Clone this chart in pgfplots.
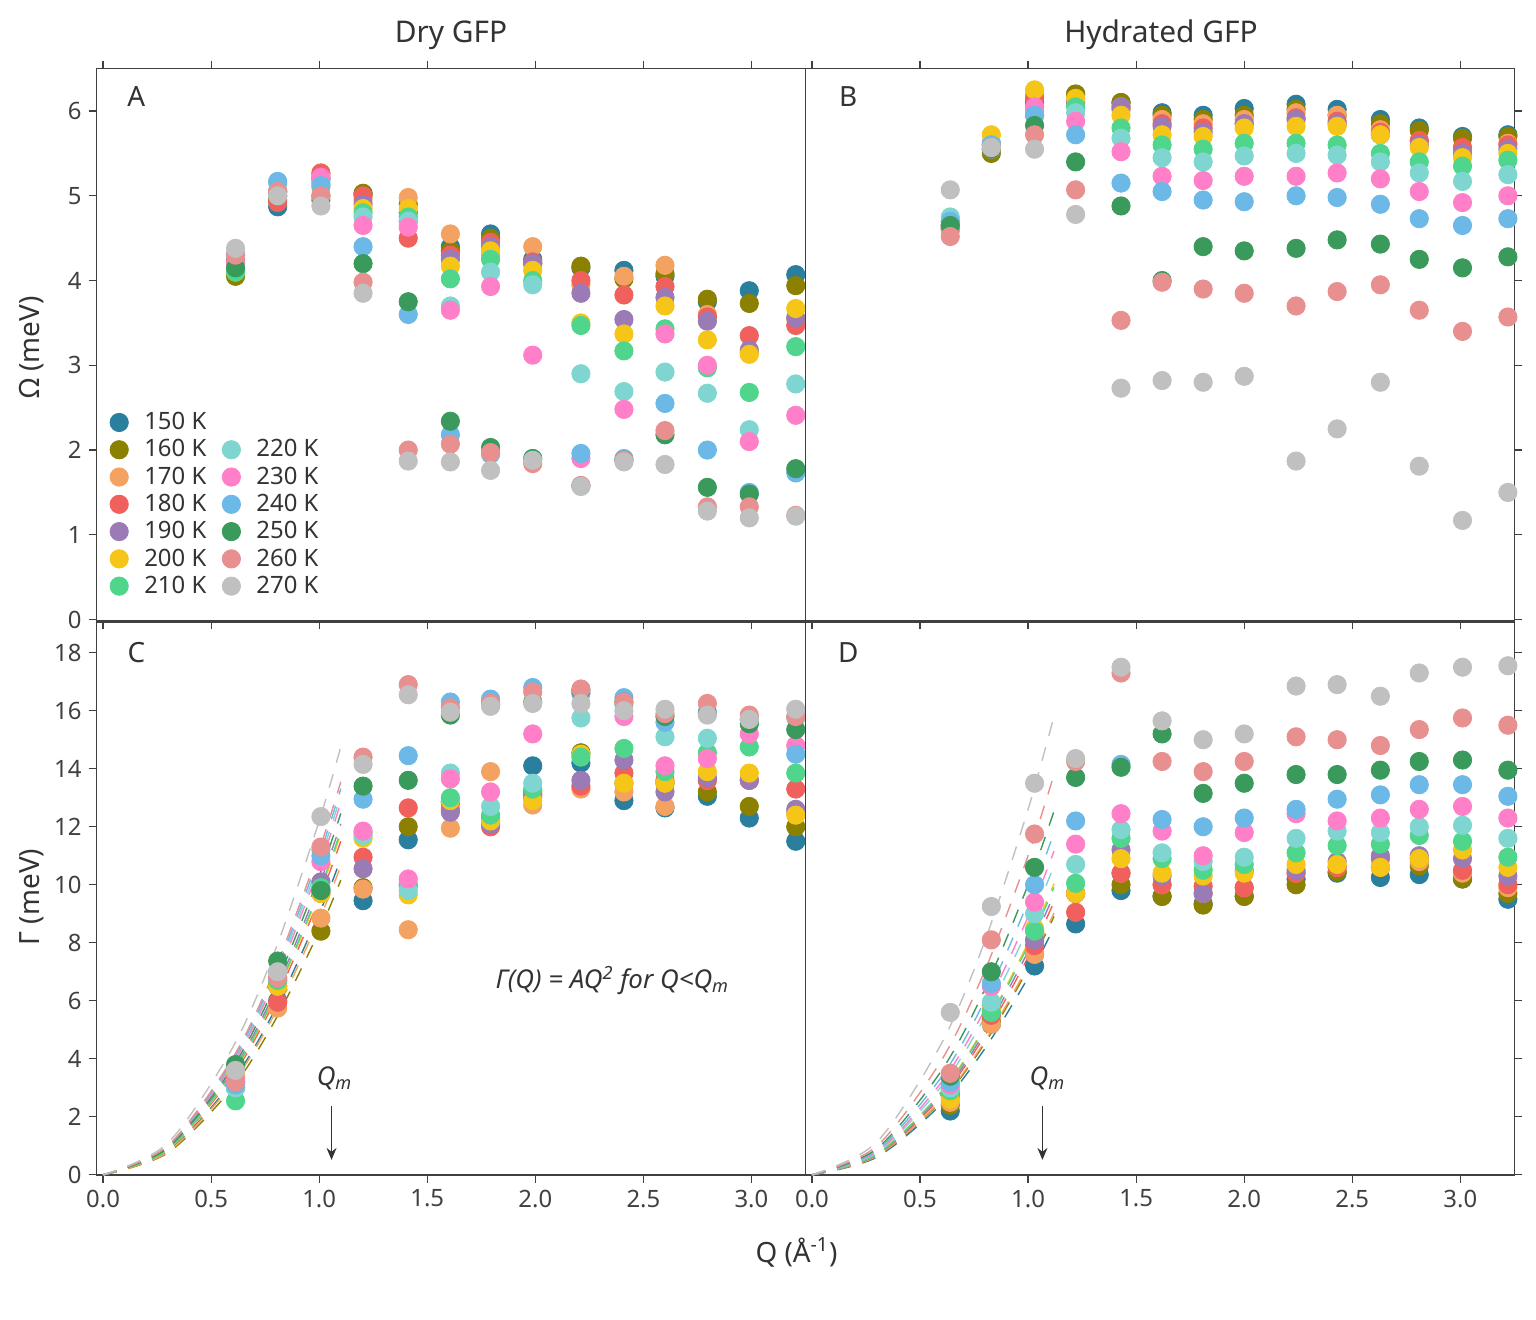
\documentclass[border=0pt]{standalone}
\usepackage{fontspec}
\setmainfont{Noto Sans}
\usepackage{pgfplots}
\usepackage{pgfplotstable}
\usetikzlibrary{arrows.meta}
\pgfplotsset{compat=1.18}
\definecolor{c150}{HTML}{2A7F9E}
\definecolor{c160}{HTML}{8B8000}
\definecolor{c170}{HTML}{F4A261}
\definecolor{c180}{HTML}{F0605D}
\definecolor{c190}{HTML}{9B7BB5}
\definecolor{c200}{HTML}{F5C518}
\definecolor{c210}{HTML}{4FD68C}
\definecolor{c220}{HTML}{7FD6D0}
\definecolor{c230}{HTML}{FF7FC8}
\definecolor{c240}{HTML}{6CB8E6}
\definecolor{c250}{HTML}{3A9A5B}
\definecolor{c260}{HTML}{E8908F}
\definecolor{c270}{HTML}{C0C0C0}
\pgfplotstableread{
Q T150 T160 T170 T180 T190 T200 T210 T220 T230 T240 T250 T260 T270
0.613 4.1 4.05 4.2 4.25 4.3 4.1 4.1 4.3 4.2 4.3 4.15 4.3 4.38
0.808 4.87 4.95 5.0 4.92 5.05 5.0 5.05 5.15 5.05 5.17 5.0 5.05 5.0
1.008 5.2 5.0 5.25 5.27 5.2 5.1 5.15 5.2 5.22 5.12 4.95 5.0 4.88
1.203 5.02 5.03 4.95 5.0 4.9 4.85 4.8 4.75 4.65 4.4 4.2 3.98 3.85
1.412 4.8 4.9 4.98 4.5 4.7 4.85 4.75 4.7 4.63 3.6 3.75 2.0 1.87
1.607 4.4 4.35 4.55 4.3 4.25 4.17 4.02 3.7 3.65 2.18 2.34 2.07 1.86
1.793 4.55 4.5 4.3 4.45 4.4 4.35 4.25 4.1 3.93 1.95 2.03 1.97 1.76
1.988 4.25 4.2 4.4 4.22 4.2 4.12 4.0 3.95 3.12 1.9 1.9 1.84 1.88
2.211 4.15 4.17 3.95 4.0 3.85 3.5 3.47 2.9 1.9 1.96 1.58 1.58 1.57
2.41 4.12 4.02 4.05 3.83 3.54 3.37 3.17 2.69 2.48 1.9 1.88 1.88 1.86
2.60 4.05 4.08 4.18 3.93 3.8 3.7 3.43 2.92 3.37 2.55 2.18 2.23 1.83
2.796 3.75 3.78 3.6 3.57 3.52 3.3 2.97 2.67 3.0 2.0 1.56 1.33 1.28
2.99 3.88 3.73 3.15 3.35 3.18 3.13 2.68 2.24 2.1 1.5 1.48 1.33 1.2
3.205 4.07 3.94 3.55 3.47 3.56 3.67 3.22 2.78 2.41 1.73 1.78 1.23 1.22
}\tabA
\pgfplotstableread{
Q T150 T160 T170 T180 T190 T200 T210 T220 T230 T240 T250 T260 T270
0.64 4.65 4.62 4.65 4.6 4.62 4.65 4.7 4.75 4.6 4.7 4.65 4.52 5.07
0.83 5.55 5.5 5.55 5.6 5.62 5.72 5.6 5.6 5.55 5.6 5.55 5.57 5.57
1.03 6.1 6.05 6.2 6.15 6.0 6.25 5.95 6.0 6.05 5.95 5.83 5.72 5.55
1.22 6.2 6.2 6.1 6.12 6.1 6.15 6.05 5.98 5.88 5.72 5.4 5.07 4.78
1.43 6.1 6.1 6.05 6.02 6.05 5.95 5.8 5.68 5.52 5.15 4.88 3.53 2.73
1.62 5.98 5.95 5.9 5.85 5.82 5.72 5.6 5.45 5.23 5.05 4.0 3.98 2.82
1.81 5.95 5.9 5.85 5.8 5.75 5.7 5.55 5.4 5.18 4.95 4.4 3.9 2.8
2.0 6.03 5.95 5.9 5.85 5.85 5.8 5.62 5.47 5.23 4.93 4.35 3.85 2.87
2.24 6.08 6.02 5.98 5.92 5.9 5.82 5.62 5.5 5.23 5.0 4.38 3.7 1.87
2.43 6.02 5.95 5.95 5.88 5.85 5.82 5.6 5.48 5.27 4.98 4.48 3.87 2.25
2.63 5.9 5.85 5.78 5.75 5.72 5.72 5.5 5.4 5.2 4.9 4.43 3.95 2.8
2.81 5.8 5.77 5.65 5.65 5.6 5.57 5.4 5.27 5.05 4.73 4.25 3.65 1.81
3.01 5.7 5.68 5.55 5.57 5.5 5.45 5.35 5.17 4.92 4.65 4.15 3.4 1.17
3.22 5.72 5.7 5.62 5.6 5.55 5.5 5.42 5.25 5.0 4.73 4.28 3.57 1.5
}\tabB
\pgfplotstableread{
Q T150 T160 T170 T180 T190 T200 T210 T220 T230 T240 T250 T260 T270
0.613 3.0 3.2 3.3 3.2 3.4 3.5 2.55 3.0 3.3 3.1 3.8 3.2 3.6
0.808 6.0 6.5 5.75 5.95 6.7 6.5 6.7 7.0 6.8 7.0 7.37 6.8 7.0
1.008 9.8 8.4 8.85 9.7 10.1 9.7 9.9 11.2 10.8 11.0 9.8 11.3 12.35
1.203 9.45 9.9 9.85 10.95 10.55 11.6 11.8 11.7 11.85 12.95 13.4 14.4 14.15
1.412 11.55 12.0 8.45 12.65 10.0 9.65 9.95 9.8 10.2 14.45 13.6 16.9 16.55
1.607 12.85 12.85 11.95 12.6 12.5 12.9 13.0 13.85 13.65 16.3 15.85 16.1 15.95
1.793 12.2 12.3 13.9 12.0 12.1 12.2 12.4 12.7 13.2 16.4 16.2 16.25 16.15
1.988 14.1 13.2 12.75 13.1 13.0 12.9 13.3 13.5 15.2 16.8 16.3 16.65 16.25
2.211 14.2 14.55 13.3 13.4 13.6 14.5 14.4 15.75 16.6 16.6 16.7 16.75 16.25
2.41 12.9 13.5 13.2 13.85 14.3 13.5 14.7 16.2 15.8 16.45 16.3 16.3 16.0
2.60 12.65 13.5 12.7 13.6 13.2 13.5 13.9 15.1 14.1 15.6 15.8 15.9 16.05
2.796 13.05 13.2 13.6 13.6 13.7 13.9 14.55 15.05 14.35 15.95 15.9 16.25 15.85
2.99 12.3 12.7 13.6 13.6 13.6 13.85 14.75 15.7 15.2 15.7 15.55 15.85 15.7
3.205 11.5 12.0 12.5 13.3 12.6 12.4 13.85 15.75 14.8 14.5 15.35 15.8 16.05
}\tabC
\pgfplotstableread{
Q T150 T160 T170 T180 T190 T200 T210 T220 T230 T240 T250 T260 T270
0.64 2.2 2.4 2.5 2.7 2.8 2.6 2.9 3.0 3.1 3.2 3.4 3.5 5.6
0.83 5.2 5.3 5.2 5.5 5.8 5.7 5.6 5.95 6.5 6.6 7.0 8.1 9.25
1.03 7.2 7.6 7.6 7.9 8.1 8.5 8.4 9.0 9.4 10.0 10.6 11.75 13.5
1.22 8.65 9.7 9.7 9.05 9.7 9.7 10.05 10.7 11.4 12.2 13.7 14.25 14.35
1.43 9.8 10.0 10.4 10.4 11.2 10.9 11.6 11.9 12.45 14.15 14.05 17.3 17.5
1.62 9.6 9.6 10.0 10.0 10.3 10.4 10.9 11.1 11.85 12.25 15.2 14.25 15.65
1.81 9.35 9.3 9.7 9.95 9.7 10.3 10.5 10.8 11.0 12.0 13.15 13.9 15.0
2.0 9.6 9.6 9.9 9.9 10.5 10.4 10.7 10.95 11.8 12.3 13.5 14.25 15.2
2.24 10.2 10.0 10.4 10.4 10.5 10.7 11.1 11.6 12.45 12.6 13.8 15.1 16.85
2.43 10.4 10.45 10.6 10.6 10.8 10.7 11.35 11.85 12.2 12.95 13.8 15.0 16.9
2.63 10.25 10.6 10.6 10.9 11.0 10.6 11.4 11.8 12.3 13.1 13.95 14.8 16.5
2.81 10.35 10.65 10.8 10.9 11.0 10.9 11.7 12.0 12.6 13.45 14.25 15.35 17.3
3.01 10.2 10.2 10.4 10.5 10.9 11.2 11.5 12.05 12.7 13.45 14.3 15.75 17.5
3.22 9.5 9.7 9.9 10.0 10.3 10.6 10.95 11.6 12.3 13.05 13.95 15.5 17.55
}\tabD
\pgfplotsset{
  panel/.style={scale only axis, width=356pt, height=277.5pt,
    axis line style={black!75, line width=0.8pt}, tick style={black!75, line width=0.6pt},
    tick align=outside, major tick length=4pt,
    xmin=-0.03, xmax=3.25, xtick={0,0.5,...,3.0},
    ticklabel style={font=\fontsize{12}{14}\selectfont, text=black!75},
    /pgf/number format/assume math mode=true,
    x tick label style={/pgf/number format/.cd, fixed, fixed zerofill, precision=1},
    clip=false},
  pts/.style={only marks, mark=*, mark size=4.6pt, color=#1, mark options={draw=#1, fill=#1}},
  fitl/.style={#1, smooth, line width=0.7pt, dash pattern=on 7pt off 6pt, forget plot}
}
\begin{document}
\begin{tikzpicture}
\path (0,0) rectangle (768pt,662.5pt);
% A
\begin{axis}[panel, at={(48.5pt,350.5pt)}, anchor=south west,
  ymin=-0.02, ymax=6.5, ytick={0,1,...,6}, xticklabels={},
  xtick pos=both, ytick pos=left,
  legend columns=7, transpose legend,
  legend image code/.code={\draw plot coordinates {(0.1cm,0cm)};},
  legend style={draw=none, fill=none, at={(0.01,0.03)}, anchor=south west,
    font=\fontsize{12}{14}\selectfont, row sep=-0.5pt, column sep=6pt, text=black!80},
  legend cell align=left]
\pgfplotsinvokeforeach{150,160,170,180,190,200,210}{
  \addplot[pts=c#1] table[x=Q,y=T#1]{\tabA}; \addlegendentry{#1 K}
}
\addlegendimage{empty legend}\addlegendentry{}
\pgfplotsinvokeforeach{220,230,240,250,260,270}{
  \addplot[pts=c#1] table[x=Q,y=T#1]{\tabA}; \addlegendentry{#1 K}
}
\end{axis}
% B
\begin{axis}[panel, at={(404.5pt,350.5pt)}, anchor=south west,
  ymin=-0.02, ymax=6.5, ytick={0,1,...,6}, xticklabels={}, yticklabels={},
  xtick pos=both, ytick pos=right]
\pgfplotsinvokeforeach{150,160,170,180,190,200,210,220,230,240,250,260,270}{
  \addplot[pts=c#1] table[x=Q,y=T#1]{\tabB};
}
\end{axis}
% C
\begin{axis}[panel, at={(48.5pt,72.5pt)}, anchor=south west,
  ymin=0, ymax=19.05, ytick={0,2,...,18},
  xtick pos=bottom, ytick pos=left]
\addplot[fitl=c150] coordinates {(0,0)(0.3,0.81)(0.6,3.24)(0.8,5.76)(1.0,9.0)(1.1,10.89)};
\addplot[fitl=c160] coordinates {(0,0)(0.3,0.76)(0.6,3.02)(0.8,5.38)(1.0,8.4)(1.1,10.16)};
\addplot[fitl=c170] coordinates {(0,0)(0.3,0.79)(0.6,3.17)(0.8,5.63)(1.0,8.8)(1.1,10.65)};
\addplot[fitl=c180] coordinates {(0,0)(0.3,0.86)(0.6,3.42)(0.8,6.08)(1.0,9.5)(1.1,11.5)};
\addplot[fitl=c190] coordinates {(0,0)(0.3,0.9)(0.6,3.6)(0.8,6.4)(1.0,10)(1.1,12.1)};
\addplot[fitl=c200] coordinates {(0,0)(0.3,0.87)(0.6,3.49)(0.8,6.21)(1.0,9.7)(1.1,11.74)};
\addplot[fitl=c210] coordinates {(0,0)(0.3,0.88)(0.6,3.53)(0.8,6.27)(1.0,9.8)(1.1,11.86)};
\addplot[fitl=c220] coordinates {(0,0)(0.3,0.97)(0.6,3.89)(0.8,6.91)(1.0,10.8)(1.1,13.07)};
\addplot[fitl=c230] coordinates {(0,0)(0.3,0.95)(0.6,3.82)(0.8,6.78)(1.0,10.6)(1.1,12.83)};
\addplot[fitl=c240] coordinates {(0,0)(0.3,0.99)(0.6,3.96)(0.8,7.04)(1.0,11)(1.1,13.31)};
\addplot[fitl=c250] coordinates {(0,0)(0.3,0.93)(0.6,3.71)(0.8,6.59)(1.0,10.3)(1.1,12.46)};
\addplot[fitl=c260] coordinates {(0,0)(0.3,1.01)(0.6,4.03)(0.8,7.17)(1.0,11.2)(1.1,13.55)};
\addplot[fitl=c270] coordinates {(0,0)(0.3,1.1)(0.6,4.39)(0.8,7.81)(1.0,12.2)(1.1,14.76)};
\pgfplotsinvokeforeach{150,160,170,180,190,200,210,220,230,240,250,260,270}{
  \addplot[pts=c#1] table[x=Q,y=T#1]{\tabC};
}
\end{axis}
% D
\begin{axis}[panel, at={(404.5pt,72.5pt)}, anchor=south west,
  ymin=0, ymax=19.05, ytick={0,2,...,18}, yticklabels={},
  xtick pos=bottom, ytick pos=right]
\addplot[fitl=c150] coordinates {(0,0)(0.3,0.61)(0.6,2.45)(0.8,4.35)(1.0,6.8)(1.12,8.53)};
\addplot[fitl=c160] coordinates {(0,0)(0.3,0.64)(0.6,2.56)(0.8,4.54)(1.0,7.1)(1.12,8.91)};
\addplot[fitl=c170] coordinates {(0,0)(0.3,0.65)(0.6,2.59)(0.8,4.61)(1.0,7.2)(1.12,9.03)};
\addplot[fitl=c180] coordinates {(0,0)(0.3,0.68)(0.6,2.7)(0.8,4.8)(1.0,7.5)(1.12,9.41)};
\addplot[fitl=c190] coordinates {(0,0)(0.3,0.69)(0.6,2.77)(0.8,4.93)(1.0,7.7)(1.12,9.66)};
\addplot[fitl=c200] coordinates {(0,0)(0.3,0.72)(0.6,2.88)(0.8,5.12)(1.0,8)(1.12,10.04)};
\addplot[fitl=c210] coordinates {(0,0)(0.3,0.71)(0.6,2.84)(0.8,5.06)(1.0,7.9)(1.12,9.91)};
\addplot[fitl=c220] coordinates {(0,0)(0.3,0.77)(0.6,3.06)(0.8,5.44)(1.0,8.5)(1.12,10.66)};
\addplot[fitl=c230] coordinates {(0,0)(0.3,0.8)(0.6,3.2)(0.8,5.7)(1.0,8.9)(1.12,11.16)};
\addplot[fitl=c240] coordinates {(0,0)(0.3,0.85)(0.6,3.38)(0.8,6.02)(1.0,9.4)(1.12,11.79)};
\addplot[fitl=c250] coordinates {(0,0)(0.3,0.9)(0.6,3.6)(0.8,6.4)(1.0,10)(1.12,12.54)};
\addplot[fitl=c260] coordinates {(0,0)(0.3,0.99)(0.6,3.96)(0.8,7.04)(1.0,11)(1.12,13.8)};
\addplot[fitl=c270] coordinates {(0,0)(0.3,1.13)(0.6,4.54)(0.8,8.06)(1.0,12.6)(1.12,15.81)};
\pgfplotsinvokeforeach{150,160,170,180,190,200,210,220,230,240,250,260,270}{
  \addplot[pts=c#1] table[x=Q,y=T#1]{\tabD};
}
\end{axis}
% texts
\begin{scope}[every node/.style={text=black!80}]
\node[font=\fontsize{15}{18}\selectfont] at (226.5pt,645pt) {Dry GFP};
\node[font=\fontsize{15}{18}\selectfont] at (583pt,645pt) {Hydrated GFP};
\node[font=\fontsize{14}{17}\selectfont\bfseries] at (400pt,33.5pt) {Q (Å\textsuperscript{-1})};
\node[font=\fontsize{14}{17}\selectfont\bfseries, rotate=90] at (16pt,488pt) {Ω (meV)};
\node[font=\fontsize{14}{17}\selectfont\bfseries, rotate=90] at (16pt,212pt) {Γ (meV)};
\node[font=\fontsize{14}{17}\selectfont] at (68.5pt,614pt) {A};
\node[font=\fontsize{14}{17}\selectfont] at (426pt,614pt) {B};
\node[font=\fontsize{14}{17}\selectfont] at (68.5pt,335pt) {C};
\node[font=\fontsize{14}{17}\selectfont] at (426pt,335pt) {D};
\node[font=\fontsize{13}{16}\selectfont\itshape] at (307.5pt,170pt) {Γ(Q) = AQ\textsuperscript{2} for Q<Q\textsubscript{m}};
\node[font=\fontsize{13}{16}\selectfont\itshape] at (168pt,121pt) {Q\textsubscript{m}};
\node[font=\fontsize{13}{16}\selectfont\itshape] at (526pt,121pt) {Q\textsubscript{m}};
\end{scope}
\draw[-{Stealth[length=6pt,width=5pt]}, black!80, line width=0.8pt] (166.5pt,107pt) -- (166.5pt,80pt);
\draw[-{Stealth[length=6pt,width=5pt]}, black!80, line width=0.8pt] (523.5pt,107pt) -- (523.5pt,80pt);
\end{tikzpicture}
\end{document}
